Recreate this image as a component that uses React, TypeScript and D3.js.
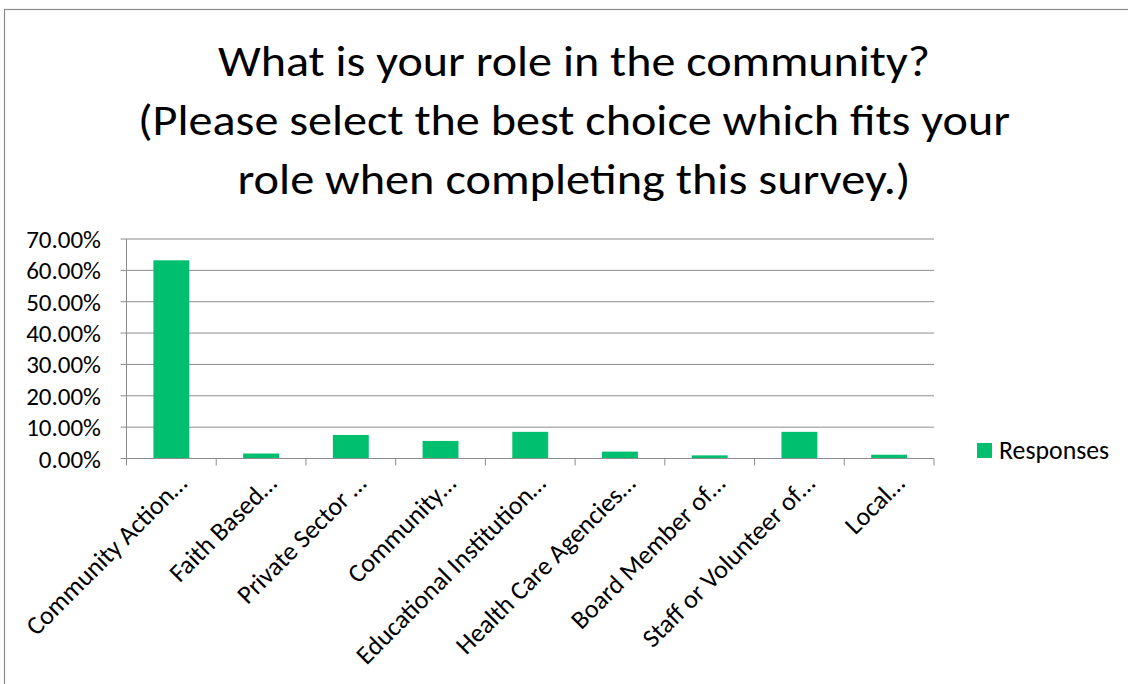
import React from "react";
import * as d3 from "d3";

const titleLines = [
  "What is your role in the community?",
  "(Please select the best choice which fits your",
  "role when completing this survey.)",
];
const categories = [
  "Community Action…",
  "Faith Based…",
  "Private Sector …",
  "Community…",
  "Educational Institution…",
  "Health Care Agencies…",
  "Board Member of…",
  "Staff or Volunteer of…",
  "Local…",
];
const responses = [0.632, 0.016, 0.075, 0.056, 0.085, 0.022, 0.01, 0.085, 0.012];
const yTicks = [0, 0.1, 0.2, 0.3, 0.4, 0.5, 0.6, 0.7];
const seriesName = "Responses";

const W = 1128;
const H = 684;
const FONT = "Carlito, Calibri, Lato, sans-serif";
const GREEN = "#00BF6F";
const GRID = "#8c8c8c";

export default function App() {
  const left = 126.5;
  const right = 934;
  const top = 239;
  const bottom = 458.5;

  const x = d3
    .scaleBand<string>()
    .domain(categories)
    .range([left, right])
    .paddingInner(0.6)
    .paddingOuter(0.3);
  const y = d3.scaleLinear().domain([0, 0.7]).range([bottom, top]);
  const step = x.step();
  const fmt = d3.format(".2%");

  const boundaries = d3.range(categories.length + 1).map((i) => left + i * step);
  const titleWidths = [712, 872, 673];
  const titleBase = [76, 135, 194];

  return (
    <svg
      width={W}
      height={H}
      style={{ position: "absolute", left: 0, top: 0, background: "#fff" }}
      fontFamily={FONT}
    >
      <rect x={0} y={0} width={W} height={H} fill="#fff" />
      <rect x={4.5} y={9.5} width={W + 10} height={H + 10} fill="none" stroke={GRID} strokeWidth={1.2} />

      {titleLines.map((t, i) => (
        <text
          key={i}
          x={574}
          y={titleBase[i]}
          textAnchor="middle"
          fontSize={44}
          fill="#000"
          textLength={titleWidths[i]}
          lengthAdjust="spacingAndGlyphs"
        >
          {t}
        </text>
      ))}

      {/* gridlines */}
      {yTicks.map((t) => (
        <line key={t} x1={left - 6} x2={right} y1={y(t)} y2={y(t)} stroke={GRID} strokeWidth={1} />
      ))}
      {/* y axis */}
      <line x1={left} x2={left} y1={top} y2={bottom} stroke={GRID} strokeWidth={1} />
      {yTicks.map((t) => (
        <text key={"l" + t} x={101} y={y(t)} dy="0.36em" textAnchor="end" fontSize={25} fill="#000">
          {fmt(t)}
        </text>
      ))}

      {/* bars */}
      {categories.map((c, i) => (
        <rect
          key={c}
          x={x(c)}
          y={y(responses[i])}
          width={x.bandwidth()}
          height={y(0) - y(responses[i])}
          fill={GREEN}
        />
      ))}

      {/* x axis */}
      <line x1={left} x2={right} y1={bottom} y2={bottom} stroke={GRID} strokeWidth={1} />
      {boundaries.map((b, i) => (
        <line key={"t" + i} x1={b} x2={b} y1={bottom} y2={bottom + 7} stroke={GRID} strokeWidth={1} />
      ))}
      {categories.map((c) => {
        const cx = (x(c) as number) + x.bandwidth() / 2 + 17;
        const cy = 485;
        return (
          <text
            key={"x" + c}
            x={cx}
            y={cy}
            textAnchor="end"
            fontSize={26}
            fill="#000"
            transform={`rotate(-45 ${cx} ${cy})`}
          >
            {c}
          </text>
        );
      })}

      {/* legend */}
      <rect x={977} y={443} width={15} height={15} fill={GREEN} />
      <text x={999} y={459} fontSize={25.8} fill="#000">
        {seriesName}
      </text>
    </svg>
  );
}
